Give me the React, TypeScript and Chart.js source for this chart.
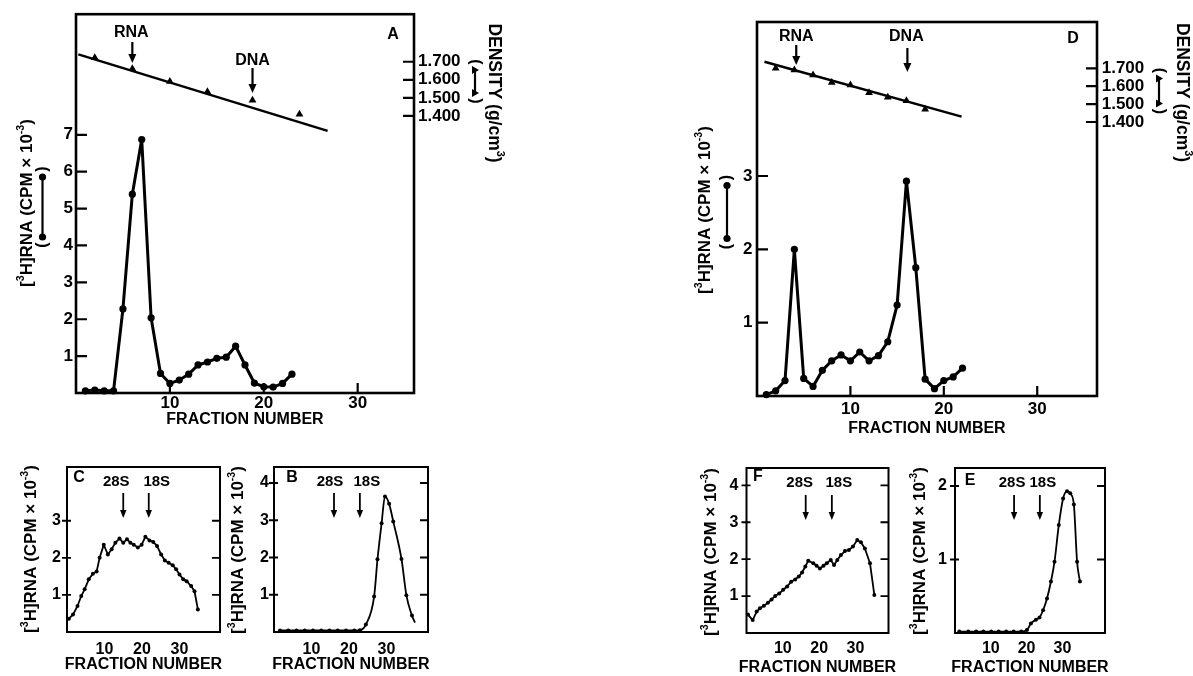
import React, { useEffect, useRef } from "react";
import { Chart, registerables } from "chart.js";

Chart.register(...registerables);

const W = 1193;
const H = 676;
const FONT = '"Liberation Sans", Arial, Helvetica, sans-serif';

// ---------------- data ----------------
const X_TICKS = [10, 20, 30];
const DENSITY_TICKS = [1.4, 1.5, 1.6, 1.7];
const Y_TICKS_A = [1, 2, 3, 4, 5, 6, 7];
const Y_TICKS_D = [1, 2, 3];
const Y_TICKS_C = [1, 2, 3];
const Y_TICKS_B = [1, 2, 3, 4];
const Y_TICKS_F = [1, 2, 3, 4];
const Y_TICKS_E = [1, 2];

// Panel A: CsCl gradient
const FRAC_A = [1, 2, 3, 4, 5, 6, 7, 8, 9, 10, 11, 12, 13, 14, 15, 16, 17, 18, 19, 20, 21, 22, 23];
const CPM_A = [0.06, 0.08, 0.06, 0.06, 2.28, 5.39, 6.87, 2.04, 0.53, 0.26, 0.35, 0.51, 0.76, 0.84, 0.94, 0.97, 1.27, 0.76, 0.27, 0.17, 0.16, 0.26, 0.51];
const DENS_FRAC_A = [2, 6, 10, 14, 18.8, 23.8];
const DENS_A = [1.722, 1.661, 1.59, 1.534, 1.487, 1.409];
const DENS_FIT_FRAC_A = [0.25, 26.8];
const DENS_FIT_A = [1.741, 1.317];
const ARROW_FRAC_A = [6, 18.8];

// Panel D: CsCl gradient
const FRAC_D = [1, 2, 3, 4, 5, 6, 7, 8, 9, 10, 11, 12, 13, 14, 15, 16, 17, 18, 19, 20, 21, 22];
const CPM_D = [0.02, 0.07, 0.21, 2.0, 0.24, 0.13, 0.35, 0.48, 0.56, 0.48, 0.6, 0.48, 0.55, 0.74, 1.24, 2.93, 1.75, 0.23, 0.1, 0.21, 0.26, 0.38];
const DENS_FRAC_D = [2, 4, 6, 8, 10, 12, 14, 16, 18];
const DENS_D = [1.7, 1.69, 1.663, 1.62, 1.607, 1.564, 1.538, 1.519, 1.471];
const DENS_FIT_FRAC_D = [0.8, 21.9];
const DENS_FIT_D = [1.737, 1.43];
const ARROW_FRAC_D = [4.2, 16.1];
const ARROW_NAMES_AD = ["RNA", "DNA"];

// Panel C: sucrose gradient
const FRAC_C = [0.5, 1.6, 2.8, 3.8, 4.7, 5.8, 6.9, 7.9, 8.7, 9.8, 10.9, 11.9, 12.9, 14, 15, 16, 16.9, 17.8, 18.9, 19.9, 20.9, 22, 23, 24, 25.1, 26.1, 27.1, 28.2, 29.1, 30, 31, 31.9, 33.1, 34, 34.9];
const CPM_C = [0.36, 0.47, 0.7, 0.97, 1.15, 1.42, 1.57, 1.63, 2.0, 2.35, 2.09, 2.23, 2.41, 2.52, 2.41, 2.5, 2.41, 2.35, 2.28, 2.35, 2.57, 2.47, 2.43, 2.32, 2.09, 1.93, 1.87, 1.8, 1.69, 1.55, 1.42, 1.37, 1.24, 1.1, 0.61];
const ARROW_FRAC_C = [15, 21.8];

// Panel B: sucrose gradient
const FRAC_B = [1.6, 3.8, 6, 8.2, 10.4, 12.6, 14.8, 17, 19.2, 21.4, 22.9, 24.5, 26.7, 27.6, 28.7, 29.6, 30.7, 31.8, 34, 35.3, 36.8, 37.6];
const CPM_B = [0.04, 0.04, 0.04, 0.04, 0.04, 0.04, 0.04, 0.04, 0.04, 0.04, 0.05, 0.2, 0.95, 1.95, 2.92, 3.64, 3.44, 2.97, 1.96, 0.99, 0.44, 0.25];
const ARROW_FRAC_B = [16, 22.9];

// Panel F: sucrose gradient
const FRAC_F = [0.4, 1.7, 2.8, 3.7, 4.8, 5.9, 6.9, 7.9, 9.0, 10.1, 11.2, 12.3, 13.4, 14.4, 15.3, 16.2, 17.0, 18.4, 19.3, 20.2, 21.2, 22.1, 23.2, 24.1, 25.0, 26.0, 27.1, 28.2, 29.3, 30.5, 31.5, 32.6, 34.0, 35.2];
const CPM_F = [0.5, 0.35, 0.58, 0.67, 0.74, 0.82, 0.91, 1.0, 1.07, 1.17, 1.26, 1.39, 1.45, 1.53, 1.64, 1.8, 1.96, 1.89, 1.82, 1.75, 1.82, 1.89, 1.98, 1.84, 1.98, 2.11, 2.22, 2.25, 2.34, 2.52, 2.46, 2.29, 1.89, 1.03];
const ARROW_FRAC_F = [16.3, 23.5];

// Panel E: sucrose gradient
const FRAC_E = [1.2, 3.7, 5.9, 7.9, 10.1, 12.2, 14.3, 16.4, 18.5, 20.1, 21.2, 22.6, 23.6, 24.6, 25.7, 26.8, 27.8, 29.0, 30.2, 31.3, 32.2, 33.2, 34.1, 34.9];
const CPM_E = [0.02, 0.02, 0.02, 0.02, 0.02, 0.02, 0.02, 0.02, 0.02, 0.04, 0.13, 0.18, 0.21, 0.31, 0.47, 0.7, 0.97, 1.47, 1.83, 1.93, 1.9, 1.75, 0.97, 0.7];
const ARROW_FRAC_E = [16.5, 23.7];
const ARROW_NAMES_S = ["28S", "18S"];

// ---------------- layout / style ----------------
type Seg = { t: string; sup?: boolean };
const Y_TITLE: Seg[] = [{ t: "[" }, { t: "3", sup: true }, { t: "H]RNA (CPM × 10" }, { t: "-3", sup: true }, { t: ")" }];
const D_TITLE: Seg[] = [{ t: "DENSITY (g/cm" }, { t: "3", sup: true }, { t: ")" }];

type Arrow = { y1: number; y2: number; dx: number; ly: number };
type Dens = {
  range: [number, number];
  fitX: number[];
  fitY: number[];
  ptX: number[];
  ptY: number[];
  labelPad: number;
  title: [number, number];
  sym: [number, number, number];
};
type PanelSpec = {
  key: string;
  box: [number, number, number, number];
  xRange: [number, number];
  yRange: [number, number];
  yTicks: number[];
  fr: number[];
  cpm: number[];
  big: boolean;
  smooth: boolean;
  tailNoMarker?: boolean;
  xLabelPad: number;
  xTitleY: number;
  yLabelPad: number;
  yTitle: [number, number];
  ySym?: [number, number, number];
  letter: [string, number, number];
  arrowFrac: number[];
  arrowNames: string[];
  arrows: Arrow[];
  density?: Dens;
};

const PANELS: PanelSpec[] = [
  {
    key: "A", box: [76, 13, 414, 393], xRange: [0, 36], yRange: [0, 10.27], yTicks: Y_TICKS_A,
    fr: FRAC_A, cpm: CPM_A, big: true, smooth: false,
    xLabelPad: 0.5, xTitleY: 420, yLabelPad: 3, yTitle: [27.5, 203], ySym: [42.5, 207, 80],
    letter: ["A", 393, 35], arrowFrac: ARROW_FRAC_A, arrowNames: ARROW_NAMES_AD,
    arrows: [{ y1: 42, y2: 63, dx: -1, ly: 33 }, { y1: 68, y2: 93, dx: 0, ly: 61 }],
    density: { range: [-0.136, 1.9635], fitX: DENS_FIT_FRAC_A, fitY: DENS_FIT_A, ptX: DENS_FRAC_A, ptY: DENS_A, labelPad: 4, title: [494, 93], sym: [475, 81.5, 43] },
  },
  {
    key: "D", box: [757, 22, 1097, 396], xRange: [0, 36.4], yRange: [0, 5.1], yTicks: Y_TICKS_D,
    fr: FRAC_D, cpm: CPM_D, big: true, smooth: false,
    xLabelPad: 3.5, xTitleY: 429, yLabelPad: 4.5, yTitle: [705, 210], ySym: [727, 212, 73],
    letter: ["D", 1073, 39], arrowFrac: ARROW_FRAC_D, arrowNames: ARROW_NAMES_AD,
    arrows: [{ y1: 45, y2: 65, dx: 0, ly: 37 }, { y1: 48, y2: 72, dx: -1, ly: 37 }],
    density: { range: [-0.131, 1.9587], fitX: DENS_FIT_FRAC_D, fitY: DENS_FIT_D, ptX: DENS_FRAC_D, ptY: DENS_D, labelPad: 4.7, title: [1182, 92.5], sym: [1159, 91, 45] },
  },
  {
    key: "C", box: [67, 467, 220, 632], xRange: [0, 40.8], yRange: [0, 4.45], yTicks: Y_TICKS_C,
    fr: FRAC_C, cpm: CPM_C, big: false, smooth: false,
    xLabelPad: 8, xTitleY: 665, yLabelPad: 6, yTitle: [31, 549],
    letter: ["C", 79, 478], arrowFrac: ARROW_FRAC_C, arrowNames: ARROW_NAMES_S,
    arrows: [{ y1: 493, y2: 518, dx: -7, ly: 482 }, { y1: 493, y2: 518, dx: 8, ly: 482 }],
  },
  {
    key: "B", box: [274, 467, 428, 632], xRange: [0, 41.07], yRange: [0, 4.43], yTicks: Y_TICKS_B,
    fr: FRAC_B, cpm: CPM_B, big: false, smooth: true, tailNoMarker: true,
    xLabelPad: 8, xTitleY: 665, yLabelPad: 5, yTitle: [238, 550],
    letter: ["B", 292, 478], arrowFrac: ARROW_FRAC_B, arrowNames: ARROW_NAMES_S,
    arrows: [{ y1: 493, y2: 518, dx: -4, ly: 482 }, { y1: 493, y2: 518, dx: 7, ly: 482 }],
  },
  {
    key: "F", box: [746.5, 468, 888.5, 633], xRange: [0, 39.1], yRange: [0, 4.47], yTicks: Y_TICKS_F,
    fr: FRAC_F, cpm: CPM_F, big: false, smooth: false,
    xLabelPad: 6, xTitleY: 668, yLabelPad: 8, yTitle: [711, 552],
    letter: ["F", 758, 477], arrowFrac: ARROW_FRAC_F, arrowNames: ARROW_NAMES_S,
    arrows: [{ y1: 495, y2: 520, dx: -6, ly: 483 }, { y1: 495, y2: 520, dx: 7, ly: 483 }],
  },
  {
    key: "E", box: [955, 468, 1105, 633], xRange: [0, 41.9], yRange: [0, 2.245], yTicks: Y_TICKS_E,
    fr: FRAC_E, cpm: CPM_E, big: false, smooth: true,
    xLabelPad: 6, xTitleY: 668, yLabelPad: 8, yTitle: [920, 551],
    letter: ["E", 970, 481], arrowFrac: ARROW_FRAC_E, arrowNames: ARROW_NAMES_S,
    arrows: [{ y1: 495, y2: 520, dx: -2, ly: 483 }, { y1: 495, y2: 520, dx: 3, ly: 483 }],
  },
];

// ---------------- drawing helpers ----------------
function font(size: number, weight = "bold") {
  return `${weight} ${size}px ${FONT}`;
}

function drawText(ctx: CanvasRenderingContext2D, s: string, x: number, y: number, size: number, rot = 0) {
  ctx.save();
  ctx.translate(x, y);
  ctx.rotate(rot);
  ctx.font = font(size);
  ctx.textAlign = "center";
  ctx.textBaseline = "middle";
  ctx.fillText(s, 0, 0);
  ctx.restore();
}

function drawRich(ctx: CanvasRenderingContext2D, segs: Seg[], x: number, y: number, size: number, rot: number) {
  ctx.save();
  ctx.translate(x, y);
  ctx.rotate(rot);
  ctx.textAlign = "left";
  ctx.textBaseline = "middle";
  const sz = (s: Seg) => (s.sup ? size * 0.62 : size);
  const widths = segs.map((s) => {
    ctx.font = font(sz(s));
    return ctx.measureText(s.t).width;
  });
  const total = widths.reduce((a, b) => a + b, 0);
  let cx = -total / 2;
  segs.forEach((s, i) => {
    ctx.font = font(sz(s));
    ctx.fillText(s.t, cx, s.sup ? -size * 0.36 : 0);
    cx += widths[i];
  });
  ctx.restore();
}

function drawSymbol(ctx: CanvasRenderingContext2D, x: number, y: number, len: number, rot: number, marker: "circle" | "triangle", size: number) {
  ctx.save();
  ctx.translate(x, y);
  ctx.rotate(rot);
  ctx.font = font(size);
  ctx.textAlign = "center";
  ctx.textBaseline = "middle";
  ctx.fillText("(", -len / 2 + 2, 0);
  ctx.fillText(")", len / 2 - 2, 0);
  const a = -len / 2 + 10;
  const b = len / 2 - 10;
  ctx.lineWidth = 2.2;
  ctx.beginPath();
  ctx.moveTo(a, 0);
  ctx.lineTo(b, 0);
  ctx.stroke();
  for (const p of [a, b]) {
    ctx.beginPath();
    if (marker === "circle") {
      ctx.arc(p, 0, 3.6, 0, Math.PI * 2);
    } else {
      ctx.moveTo(p, -4);
      ctx.lineTo(p + 4, 3);
      ctx.lineTo(p - 4, 3);
      ctx.closePath();
    }
    ctx.fill();
  }
  ctx.restore();
}

function drawArrow(ctx: CanvasRenderingContext2D, x: number, y1: number, y2: number, big: boolean) {
  const hl = big ? 9 : 8;
  const hw = big ? 4 : 3.2;
  ctx.lineWidth = big ? 2.2 : 1.8;
  ctx.beginPath();
  ctx.moveTo(x, y1);
  ctx.lineTo(x, y2 - hl + 1);
  ctx.stroke();
  ctx.beginPath();
  ctx.moveTo(x - hw, y2 - hl);
  ctx.lineTo(x + hw, y2 - hl);
  ctx.lineTo(x, y2);
  ctx.closePath();
  ctx.fill();
}

function makeDecor(s: PanelSpec) {
  return {
    id: "decor" + s.key,
    afterDatasetsDraw(chart: any) {
      const ctx = chart.ctx as CanvasRenderingContext2D;
      const ca = chart.chartArea;
      const xs = chart.scales.x;
      const ys = chart.scales.y;
      ctx.save();
      ctx.strokeStyle = "#000";
      ctx.fillStyle = "#000";
      // frame
      ctx.lineWidth = s.big ? 2.6 : 2;
      ctx.strokeRect(ca.left, ca.top, ca.right - ca.left, ca.bottom - ca.top);
      // tick marks
      ctx.lineWidth = s.big ? 2.2 : 1.8;
      ctx.beginPath();
      for (const v of s.yTicks) {
        const py = ys.getPixelForValue(v);
        if (s.big) {
          ctx.moveTo(ca.left, py);
          ctx.lineTo(ca.left + 11, py);
        } else {
          ctx.moveTo(ca.left - 5, py);
          ctx.lineTo(ca.left + 4, py);
          ctx.moveTo(ca.right - 8, py);
          ctx.lineTo(ca.right, py);
        }
      }
      if (s.big) {
        for (const v of X_TICKS) {
          const px = xs.getPixelForValue(v);
          ctx.moveTo(px, ca.bottom);
          ctx.lineTo(px, ca.bottom - 10);
        }
      }
      if (s.density) {
        const yd = chart.scales.yD;
        for (const v of DENSITY_TICKS) {
          const py = yd.getPixelForValue(v);
          ctx.moveTo(ca.right - 11, py);
          ctx.lineTo(ca.right, py);
        }
      }
      ctx.stroke();
      // arrows + labels
      s.arrowFrac.forEach((f, i) => {
        const a = s.arrows[i];
        const px = xs.getPixelForValue(f);
        drawArrow(ctx, px, a.y1, a.y2, s.big);
        drawText(ctx, s.arrowNames[i], px + a.dx, a.ly, s.big ? 16 : 15);
      });
      // panel letter
      drawText(ctx, s.letter[0], s.letter[1], s.letter[2], 16);
      // axis titles
      drawText(ctx, "FRACTION NUMBER", (ca.left + ca.right) / 2, s.xTitleY, 16);
      drawRich(ctx, Y_TITLE, s.yTitle[0], s.yTitle[1], 17, -Math.PI / 2);
      if (s.ySym) drawSymbol(ctx, s.ySym[0], s.ySym[1], s.ySym[2], -Math.PI / 2, "circle", 16);
      if (s.density) {
        drawRich(ctx, D_TITLE, s.density.title[0], s.density.title[1], 17.5, Math.PI / 2);
        drawSymbol(ctx, s.density.sym[0], s.density.sym[1], s.density.sym[2], Math.PI / 2, "triangle", 16);
      }
      ctx.restore();
    },
  };
}

function buildConfig(s: PanelSpec): any {
  const [l, t, r, b] = s.box;
  const LW = 40;
  const BH = 40;
  const RW = s.density ? 70 : 0;
  const tickFont = { family: FONT, size: s.big ? 17 : 16, weight: "bold" as const };
  const radius = s.big ? 3.6 : 2;
  const radii = s.cpm.map((_, i) => (s.tailNoMarker && i === s.cpm.length - 1 ? 0 : radius));
  const datasets: any[] = [
    {
      data: s.fr.map((x, i) => ({ x, y: s.cpm[i] })),
      yAxisID: "y",
      borderColor: "#000",
      backgroundColor: "#000",
      borderWidth: s.big ? 3 : 1.8,
      borderJoinStyle: "round",
      pointRadius: radii,
      pointBackgroundColor: "#000",
      pointBorderWidth: 0,
      tension: s.smooth ? 0.4 : 0,
      cubicInterpolationMode: s.smooth ? "monotone" : "default",
      clip: 10,
    },
  ];
  const scales: any = {
    x: {
      type: "linear",
      min: s.xRange[0],
      max: s.xRange[1],
      afterBuildTicks: (sc: any) => {
        sc.ticks = X_TICKS.map((v) => ({ value: v }));
      },
      afterFit: (sc: any) => {
        sc.height = BH;
      },
      ticks: { font: tickFont, color: "#000", padding: s.xLabelPad, maxRotation: 0, autoSkip: false, callback: (v: any) => String(v) },
      grid: { display: false, drawTicks: false },
      border: { display: false },
    },
    y: {
      type: "linear",
      position: "left",
      min: s.yRange[0],
      max: s.yRange[1],
      afterBuildTicks: (sc: any) => {
        sc.ticks = s.yTicks.map((v) => ({ value: v }));
      },
      afterFit: (sc: any) => {
        sc.width = LW;
      },
      ticks: { font: tickFont, color: "#000", padding: s.yLabelPad, autoSkip: false, callback: (v: any) => String(v) },
      grid: { display: false, drawTicks: false },
      border: { display: false },
    },
  };
  if (s.density) {
    const d = s.density;
    datasets.push({
      data: d.fitX.map((x, i) => ({ x, y: d.fitY[i] })),
      yAxisID: "yD",
      borderColor: "#000",
      borderWidth: 2.5,
      pointRadius: 0,
      tension: 0,
      clip: 10,
    });
    datasets.push({
      data: d.ptX.map((x, i) => ({ x, y: d.ptY[i] })),
      yAxisID: "yD",
      showLine: false,
      pointStyle: "triangle",
      pointRadius: 4.5,
      pointBackgroundColor: "#000",
      pointBorderColor: "#000",
      pointBorderWidth: 0,
      clip: 10,
    });
    scales.yD = {
      type: "linear",
      position: "right",
      min: d.range[0],
      max: d.range[1],
      afterBuildTicks: (sc: any) => {
        sc.ticks = DENSITY_TICKS.map((v) => ({ value: v }));
      },
      afterFit: (sc: any) => {
        sc.width = RW;
      },
      ticks: { font: tickFont, color: "#000", padding: d.labelPad, autoSkip: false, callback: (v: any) => Number(v).toFixed(3) },
      grid: { display: false, drawTicks: false },
      border: { display: false },
    };
  }
  return {
    type: "line",
    data: { datasets },
    options: {
      animation: false,
      responsive: false,
      events: [],
      layout: { padding: { left: l - LW, top: t, right: W - r - RW, bottom: H - b - BH } },
      plugins: { legend: { display: false }, tooltip: { enabled: false } },
      scales,
    },
    plugins: [makeDecor(s)],
  };
}

function PanelChart({ spec }: { spec: PanelSpec }) {
  const ref = useRef<HTMLCanvasElement | null>(null);
  useEffect(() => {
    if (!ref.current) return;
    const chart = new Chart(ref.current, buildConfig(spec));
    return () => chart.destroy();
  }, [spec]);
  return (
    <canvas
      ref={ref}
      width={W}
      height={H}
      style={{ position: "absolute", left: 0, top: 0, width: W, height: H }}
    />
  );
}

export default function App() {
  return (
    <div style={{ position: "absolute", left: 0, top: 0, width: W, height: H, overflow: "hidden", background: "#fff" }}>
      {PANELS.map((p) => (
        <PanelChart key={p.key} spec={p} />
      ))}
    </div>
  );
}
